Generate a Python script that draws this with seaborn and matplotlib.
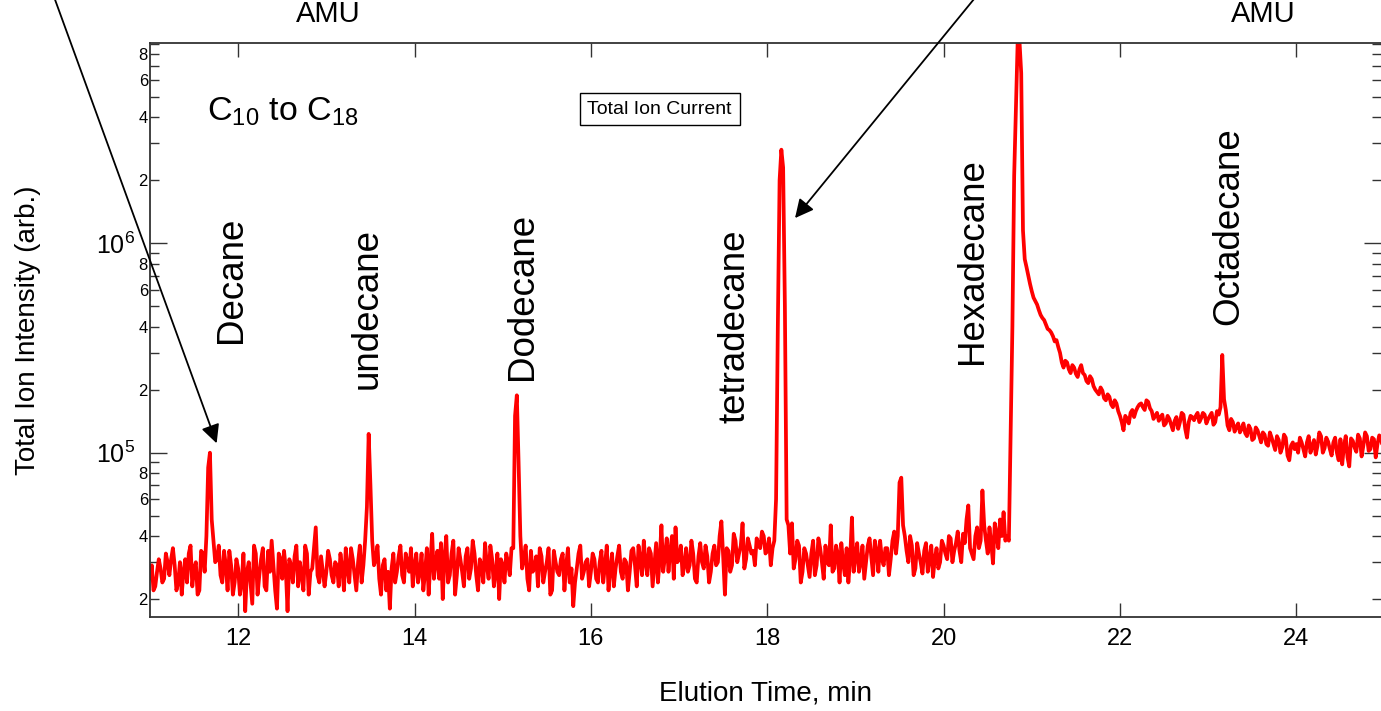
import numpy as np
import pandas as pd
import matplotlib
matplotlib.use("Agg")
import matplotlib.pyplot as plt
from matplotlib.ticker import FixedLocator, FuncFormatter
import seaborn as sns

# total ion current, thousands of counts.
# aNN: samples at NN.00, NN.04, ...   bNN: samples in between (NN.02, NN.06, ...)
t_start = 11.0
t_step = 0.02
a11 = [25, 22, 27, 28, 25, 30, 31, 29, 24, 21, 31, 33, 23, 30, 22, 33, 40, 100, 38, 31, 26, 34, 22, 29, 24]
b11 = [29, 23, 31, 24, 33, 26, 35, 22, 30, 27, 24, 36, 28, 21, 34, 27, 85, 48, 30, 36, 24, 29, 34, 21, 31]
a12 = [28, 24, 17.5, 30, 19, 33, 26, 35, 22, 27, 29, 18, 31, 34, 17.5, 29, 32, 23, 26, 36, 21, 28, 44, 24, 27]
b12 = [21, 33, 27, 24, 36, 21, 31, 23, 34, 38, 22, 33, 25, 28, 31, 24, 36, 30, 22, 33, 27, 35, 26, 32, 23]
a13 = [27, 31, 24, 29, 33, 22, 28, 35, 26, 30, 24, 38, 123, 38, 31, 25, 29, 22, 18, 33, 27, 36, 24, 30, 35]
b13 = [34, 26, 30, 23, 28, 35, 24, 31, 22, 36, 29, 55, 70, 29, 36, 21, 31, 27, 28, 24, 32, 26, 33, 27, 23]
a14 = [29, 24, 33, 27, 21, 41, 30, 25, 20, 40, 26, 38, 26, 31, 23, 35, 28, 33, 22, 29, 37, 25, 31, 27, 20]
b14 = [33, 27, 22, 35, 30, 25, 34, 37, 32, 24, 33, 21, 35, 27, 32, 25, 38, 26, 31, 24, 29, 36, 23, 33, 31]
a15 = [29, 33, 26, 35, 188, 40, 31, 25, 34, 28, 23, 32, 27, 35, 22, 30, 26, 33, 29, 24, 18.5, 28, 36, 27, 31]
b15 = [24, 30, 35, 150, 90, 28, 36, 22, 27, 32, 35, 24, 30, 21, 34, 27, 31, 22, 35, 28, 24, 33, 25, 30, 23]
a16 = [27, 31, 24, 34, 29, 22, 33, 28, 36, 25, 30, 27, 35, 23, 31, 38, 26, 33, 29, 24, 45, 32, 27, 40, 44]
b16 = [33, 25, 30, 24, 36, 28, 23, 32, 27, 31, 22, 34, 29, 36, 26, 30, 35, 23, 37, 31, 27, 39, 34, 25, 30]
a17 = [31, 26, 35, 29, 33, 24, 37, 28, 32, 27, 36, 30, 47, 21, 34, 29, 38, 33, 46, 31, 36, 34, 39, 35, 40]
b17 = [36, 29, 27, 38, 25, 32, 30, 36, 24, 33, 29, 40, 32, 35, 27, 41, 30, 36, 28, 39, 33, 29, 36, 42, 33]
a18 = [34, 29, 38, 400, 2800, 500, 45, 46, 31, 36, 27, 33, 25.5, 38, 29, 35, 25, 30, 45, 28, 33, 37, 26, 24, 49]
b18 = [39, 35, 60, 2000, 2300, 48, 33, 28, 38, 24, 35, 29, 33, 26, 39, 30, 36, 29, 27, 36, 24, 30, 35, 31, 27]
a19 = [32, 27, 36, 30, 39, 26, 34, 38, 29, 35, 31, 42, 40, 76, 40, 30, 36, 28, 33, 26.5, 37, 31, 25.5, 35, 30]
b19 = [37, 30, 25, 36, 32, 38, 27, 31, 35, 26, 38, 33, 72, 45, 34, 40, 26, 37, 30, 34, 27, 36, 31, 28, 38]
a20 = [36, 31, 39, 34, 42, 30, 37, 56, 33, 40, 35, 66, 38, 44, 29.6, 41, 48, 52, 40, 120, 2100, 9300, 6500, 840, 700]
b20 = [33, 40, 30, 37, 34, 41, 48, 35, 31, 44, 38, 45, 33, 37, 46, 35, 40, 38, 38, 400, 4500, 9300, 1150, 770, 640]
a21 = [590, 530, 480, 440, 410, 385, 360, 345, 300, 255, 270, 240, 255, 230, 262, 235, 215, 225, 200, 190, 198, 178, 185, 165, 172]
b21 = [550, 510, 455, 430, 390, 375, 340, 320, 270, 275, 250, 262, 238, 250, 240, 220, 232, 208, 195, 205, 182, 190, 170, 178, 158]
a22 = [150, 128, 145, 155, 148, 165, 172, 160, 175, 158, 150, 142, 152, 138, 145, 128, 148, 140, 152, 118, 150, 143, 155, 146, 152]
b22 = [140, 150, 138, 160, 158, 170, 165, 178, 163, 145, 155, 148, 135, 150, 136, 142, 130, 155, 130, 140, 148, 150, 140, 155, 138]
a23 = [145, 155, 140, 152, 293, 160, 128, 140, 133, 125, 138, 120, 130, 117, 128, 112, 122, 108, 118, 103, 115, 106, 118, 92, 112]
b23 = [150, 136, 158, 165, 180, 135, 145, 126, 138, 130, 124, 135, 115, 132, 120, 125, 110, 125, 110, 120, 100, 122, 97, 108, 104]
a24 = [110, 118, 104, 112, 100, 115, 108, 120, 105, 113, 97, 118, 92, 88, 120, 86, 114, 101, 117, 108, 120, 104, 116, 110, 118]
b24 = [100, 112, 96, 120, 107, 98, 125, 100, 118, 104, 112, 100, 116, 108, 95, 117, 106, 122, 96, 125, 102, 118, 95, 121, 105]

compounds = ["Decane", "undecane", "Dodecane", "tetradecane", "Hexadecane", "Octadecane"]
label_pos = [(0.0666, 0.587), (0.1763, 0.537), (0.303, 0.559), (0.475, 0.507), (0.668, 0.620), (0.876, 0.681)]
x_ticks = [12, 14, 16, 18, 20, 22, 24]

evens = [a11, a12, a13, a14, a15, a16, a17, a18, a19, a20, a21, a22, a23, a24]
odds = [b11, b12, b13, b14, b15, b16, b17, b18, b19, b20, b21, b22, b23, b24]
counts = np.column_stack([np.concatenate(evens), np.concatenate(odds)]).ravel() * 1e3
times = np.round(t_start + t_step * np.arange(len(counts)), 3)
df = pd.DataFrame({"time": times, "tic": counts})

sns.set_theme(style="ticks")
plt.rcParams['font.family'] = ['Liberation Sans', 'DejaVu Sans']
plt.rcParams['mathtext.fontset'] = 'custom'
plt.rcParams['mathtext.rm'] = 'Liberation Sans'
plt.rcParams['mathtext.it'] = 'Liberation Sans'
for key in ['text.color', 'axes.labelcolor', 'xtick.color', 'ytick.color']:
    plt.rcParams[key] = 'black'

fig = plt.figure(figsize=(13.81, 7.11), dpi=100)
ax = fig.add_axes([0.1086, 0.1322, 0.8914, 0.8073])

sns.lineplot(data=df, x="time", y="tic", ax=ax, color="#ff0000", lw=2.7, estimator=None, sort=False)

ax.set_yscale("log")
ax.set_xlim(11.0, 24.96)
ax.set_ylim(1.642e4, 9.05e6)

ax.xaxis.set_major_locator(FixedLocator(x_ticks))
ax.set_xticklabels([str(v) for v in x_ticks])
ax.yaxis.set_major_locator(FixedLocator([1e5, 1e6]))
ax.yaxis.set_major_formatter(FuncFormatter(lambda v, p: r"$\mathregular{10^{%d}}$" % round(np.log10(v))))
minor = [m * 10.0 ** d for d in (4, 5, 6) for m in range(2, 10)]
ax.yaxis.set_minor_locator(FixedLocator(minor))
ax.yaxis.set_minor_formatter(FuncFormatter(
    lambda v, p: str(int(round(v / 10 ** np.floor(np.log10(v))))) if round(v / 10 ** np.floor(np.log10(v))) in (2, 4, 6, 8) else ""))

ax.tick_params(axis="x", which="major", direction="in", top=True, length=10, width=1,
               labelsize=17, pad=8, color="#333333")
ax.tick_params(axis="y", which="major", direction="in", right=True, length=12, width=1,
               labelsize=18, pad=11, color="#333333")
ax.tick_params(axis="y", which="minor", direction="in", right=True, length=6.5, width=1,
               labelsize=12, pad=1.5, color="#333333")
ax.tick_params(axis="x", which="minor", bottom=False, top=False)

for s in ["left", "top", "bottom"]:
    ax.spines[s].set_linewidth(1.3)
    ax.spines[s].set_color("#333333")
ax.spines["right"].set_visible(False)

ax.set_xlabel("Elution Time, min", fontsize=20, va="center")
ax.set_ylabel("Total Ion Intensity (arb.)", fontsize=20, va="center")
ax.xaxis.set_label_coords(0.5, -0.134)
ax.yaxis.set_label_coords(-0.099, 0.5)

for name, (px, py) in zip(compounds, label_pos):
    ax.text(px, py, name, transform=ax.transAxes, rotation=90, fontsize=26.5,
            ha="center", va="center")

ax.text(0.0463, 0.880, r"C$_{10}$ to C$_{18}$", transform=ax.transAxes, fontsize=24.5,
        ha="left", va="center")
ax.text(0.414, 0.885, "Total Ion Current", transform=ax.transAxes, fontsize=14,
        ha="center", va="center",
        bbox=dict(boxstyle="square,pad=0.4", fc="white", ec="black", lw=1))

fig.text(328 / 1381, 0.969, "AMU", fontsize=21, ha="center", va="baseline")
fig.text(1263 / 1381, 0.969, "AMU", fontsize=21, ha="center", va="baseline")

arrow = dict(arrowstyle="-|>", color="black", lw=1.3, mutation_scale=28, shrinkA=0, shrinkB=0)
ax.annotate("", xy=(11.756, 1.109e5), xycoords="data", xytext=(0.039, 1.005),
            textcoords="figure fraction", arrowprops=arrow, annotation_clip=False)
ax.annotate("", xy=(18.315, 1.32e6), xycoords="data", xytext=(0.706, 1.003),
            textcoords="figure fraction", arrowprops=arrow, annotation_clip=False)

fig.savefig("out.png", dpi=100)
